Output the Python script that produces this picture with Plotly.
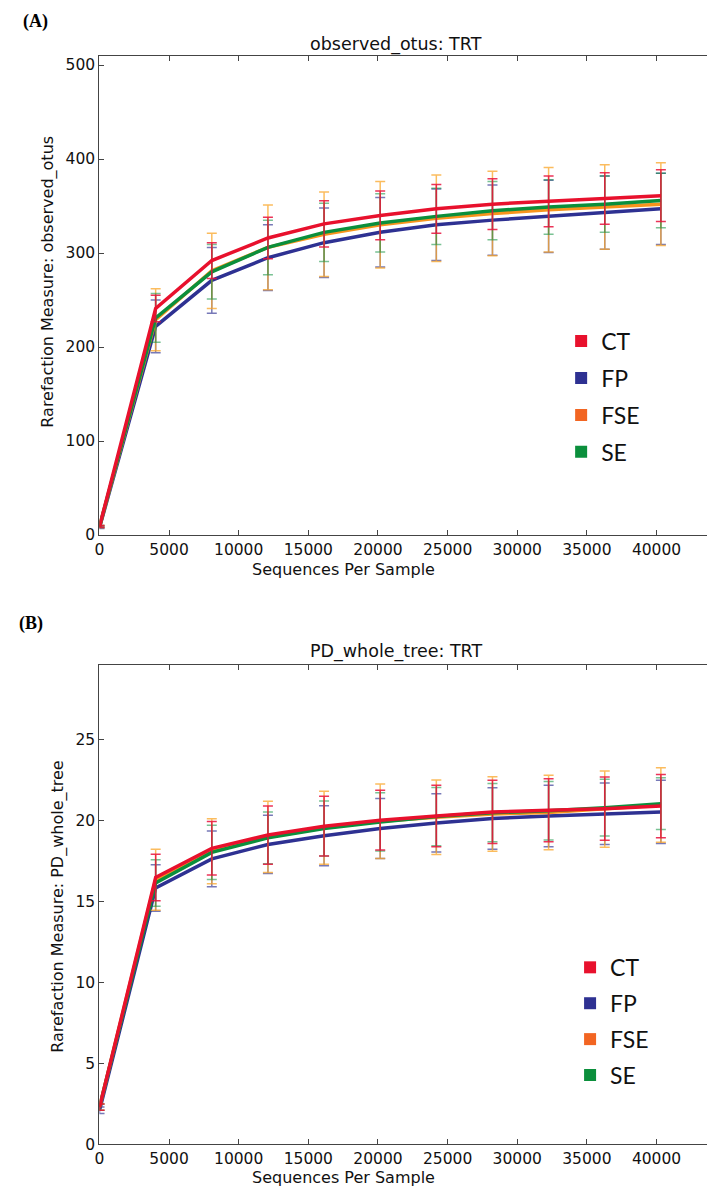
import plotly.graph_objects as go

# ---------------- data ----------------
groups = ["CT", "FP", "FSE", "SE"]
seqs = [10, 4040, 8070, 12100, 16130, 20160, 24190, 28220, 32250, 36280, 40310]

x_ticks = [0, 5000, 10000, 15000, 20000, 25000, 30000, 35000, 40000]
x_tick_labels = ["0", "5000", "10000", "15000", "20000", "25000", "30000", "35000", "40000"]
otus_ticks = [0, 100, 200, 300, 400, 500]
pd_ticks = [0, 5, 10, 15, 20, 25]

# observed_otus (mean, sd)
ct_otus = [9, 241, 292, 316, 331, 340, 347, 352, 355, 358, 361]
ct_otus_sd = [1, 14, 19, 22, 24.5, 26, 26, 27, 27, 27.5, 27.5]
fp_otus = [8, 222, 271, 295, 311, 322, 330, 335, 339, 343, 347]
fp_otus_sd = [1, 28, 35, 35, 37, 37, 38, 37.5, 38.5, 39, 38]
fse_otus = [9, 229, 281, 306, 320, 330, 337, 342, 346, 349, 352]
fse_otus_sd = [1, 33, 40, 45, 45, 46, 46, 45, 45, 45, 44]
se_otus = [9, 231, 280, 306, 322, 332, 339, 345, 349, 352, 356]
se_otus_sd = [1, 26, 29, 29, 31, 31, 30, 31, 29, 30, 29]

# PD_whole_tree (mean, sd)
ct_pd = [2.3, 16.48, 18.28, 19.10, 19.65, 20.02, 20.28, 20.53, 20.63, 20.73, 20.89]
ct_pd_sd = [0.2, 1.43, 1.65, 1.8, 1.85, 1.85, 1.9, 1.95, 1.95, 1.95, 1.95]
fp_pd = [2.1, 15.83, 17.63, 18.52, 19.06, 19.50, 19.85, 20.12, 20.28, 20.42, 20.53]
fp_pd_sd = [0.2, 1.43, 1.72, 1.8, 1.85, 1.85, 1.8, 1.9, 1.9, 1.9, 1.95]
fse_pd = [2.3, 16.34, 18.10, 18.98, 19.55, 19.95, 20.20, 20.40, 20.50, 20.70, 20.95]
fse_pd_sd = [0.2, 1.88, 2.0, 2.2, 2.25, 2.3, 2.3, 2.3, 2.3, 2.35, 2.3]
se_pd = [2.3, 16.14, 18.03, 18.93, 19.50, 19.91, 20.24, 20.48, 20.60, 20.79, 21.04]
se_pd_sd = [0.2, 1.43, 1.68, 1.6, 1.7, 1.8, 1.8, 1.8, 1.8, 1.75, 1.6]

# ---------------- styles ----------------
line_col = {"CT": "#e8112d", "FP": "#2e3192", "FSE": "#f7941d", "SE": "#0b8f3c"}
legend_col = {"CT": "#e8112d", "FP": "#2e3192", "FSE": "#f26522", "SE": "#0b8f3c"}
err_col = {"CT": "rgba(232,17,60,0.85)", "FP": "rgba(46,49,146,0.65)",
           "FSE": "rgba(250,165,40,0.75)", "SE": "rgba(11,143,60,0.55)"}

W, H = 715, 1194
def px_x(p):
    return p / W
def px_y(p):
    return 1 - p / H

top_data = {"CT": (ct_otus, ct_otus_sd), "FP": (fp_otus, fp_otus_sd),
            "FSE": (fse_otus, fse_otus_sd), "SE": (se_otus, se_otus_sd)}
bot_data = {"CT": (ct_pd, ct_pd_sd), "FP": (fp_pd, fp_pd_sd),
            "FSE": (fse_pd, fse_pd_sd), "SE": (se_pd, se_pd_sd)}

draw_order = ["FP", "FSE", "SE", "CT"]

fig = go.Figure()
for panel, data, xa, ya, leg in [("top", top_data, "x", "y", "legend"),
                                 ("bot", bot_data, "x2", "y2", "legend2")]:
    for g in draw_order:
        mean, sd = data[g]
        fig.add_trace(go.Scatter(
            x=seqs, y=mean, mode="lines", xaxis=xa, yaxis=ya,
            line=dict(color=line_col[g], width=3.5),
            error_y=dict(type="data", array=sd, visible=True,
                         color=err_col[g], thickness=1.5, width=5),
            showlegend=False, hoverinfo="skip"))
    for i, g in enumerate(groups):
        fig.add_trace(go.Scatter(
            x=[None], y=[None], mode="markers", xaxis=xa, yaxis=ya,
            name=g, legend=leg, legendrank=i + 1, legendgroup=panel + g,
            marker=dict(symbol="square", size=10, color=legend_col[g]),
            showlegend=True))

tick_font = dict(family="DejaVu Sans", size=15.5, color="#111111")
axis_common = dict(showline=True, linecolor="#444444", linewidth=1.2,
                   mirror="ticks", ticks="inside", ticklen=5, tickcolor="#444444",
                   showgrid=False, zeroline=False, tickfont=tick_font)

x_dom = [px_x(87), px_x(707)]
fig.update_layout(
    width=W, height=H,
    margin=dict(l=0, r=0, t=0, b=0),
    paper_bgcolor="white", plot_bgcolor="white",
    xaxis=dict(domain=x_dom, range=[0, 44200], tickvals=x_ticks, ticktext=x_tick_labels,
               anchor="y", **axis_common),
    yaxis=dict(domain=[px_y(531), px_y(48)], range=[0, 510], tickvals=otus_ticks,
               anchor="x", **axis_common),
    xaxis2=dict(domain=x_dom, range=[0, 44200], tickvals=x_ticks, ticktext=x_tick_labels,
                anchor="y2", **axis_common),
    yaxis2=dict(domain=[px_y(1145), px_y(662)], range=[0, 29.6], tickvals=pd_ticks,
                anchor="x2", **axis_common),
    legend=dict(x=px_x(552), y=px_y(314), xanchor="left", yanchor="top",
                bgcolor="rgba(0,0,0,0)", font=dict(family="Lato", size=23, color="#111111"),
                tracegroupgap=4, itemsizing="constant"),
    legend2=dict(x=px_x(561), y=px_y(945), xanchor="left", yanchor="top",
                 bgcolor="rgba(0,0,0,0)", font=dict(family="Lato", size=23, color="#111111"),
                 tracegroupgap=3, itemsizing="constant"),
    showlegend=True,
)

ann_font = dict(family="DejaVu Sans", size=16, color="#111111")
annotations = [
    dict(text="<b>(A)</b>", x=px_x(8), y=px_y(14), xanchor="left", yanchor="middle",
         font=dict(family="Liberation Serif", size=18, color="black"), showarrow=False),
    dict(text="<b>(B)</b>", x=px_x(4), y=px_y(620), xanchor="left", yanchor="middle",
         font=dict(family="Liberation Serif", size=18, color="black"), showarrow=False),
    dict(text="observed_otus: TRT", x=px_x(386), y=px_y(37), xanchor="center", yanchor="middle",
         font=dict(family="DejaVu Sans", size=17.5, color="#111111"), showarrow=False),
    dict(text="PD_whole_tree: TRT", x=px_x(386), y=px_y(648), xanchor="center", yanchor="middle",
         font=dict(family="DejaVu Sans", size=17.5, color="#111111"), showarrow=False),
    dict(text="Sequences Per Sample", x=px_x(333), y=px_y(566), xanchor="center", yanchor="middle",
         font=ann_font, showarrow=False),
    dict(text="Sequences Per Sample", x=px_x(333), y=px_y(1178), xanchor="center", yanchor="middle",
         font=ann_font, showarrow=False),
    dict(text="Rarefaction Measure: observed_otus", x=px_x(35), y=px_y(276), textangle=-90,
         xanchor="center", yanchor="middle", font=ann_font, showarrow=False),
    dict(text="Rarefaction Measure: PD_whole_tree", x=px_x(45), y=px_y(905), textangle=-90,
         xanchor="center", yanchor="middle", font=ann_font, showarrow=False),
]
for a in annotations:
    a["xref"] = "paper"
    a["yref"] = "paper"
fig.update_layout(annotations=annotations)

fig.write_html("out.html")
